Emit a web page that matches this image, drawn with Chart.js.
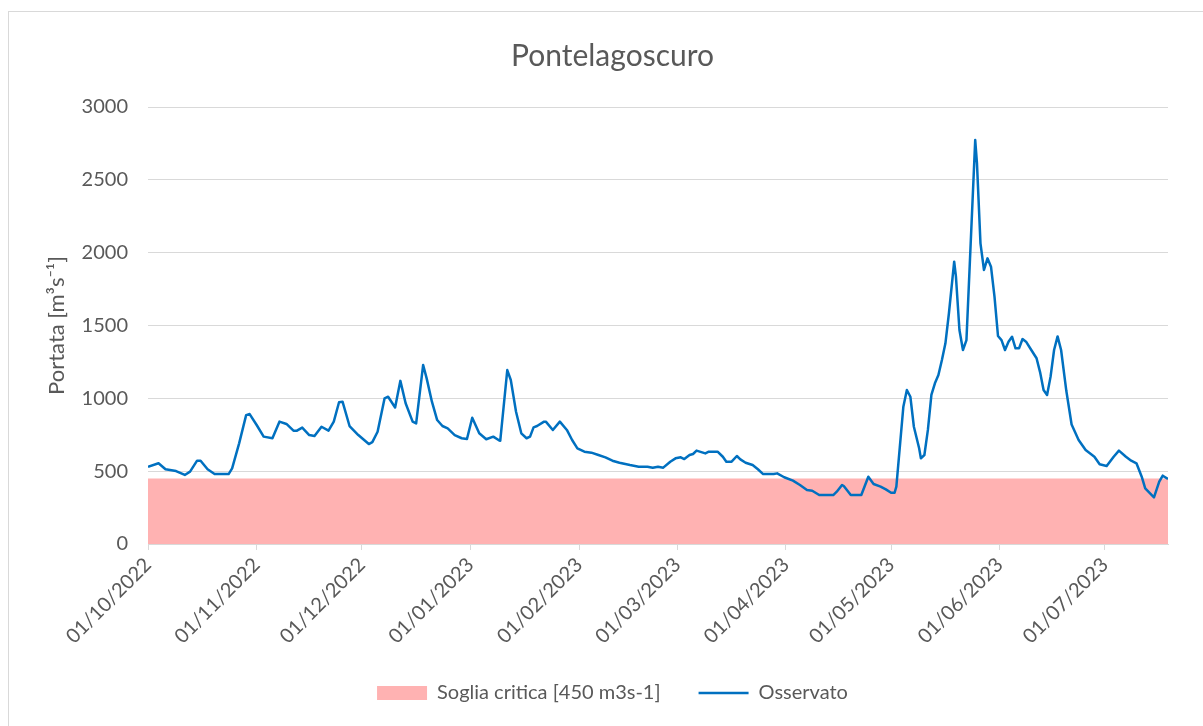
<!DOCTYPE html>
<html lang="it">
<head>
  <meta charset="UTF-8" />
  <title>Pontelagoscuro</title>
  <script src="https://cdn.jsdelivr.net/npm/chart.js"></script>
  <style>
    html, body { margin: 0; padding: 0; background: #fff; overflow: hidden; }
    #wrap { position: relative; width: 1203px; height: 726px; }
    #frame { position: absolute; left: 8px; top: 11px; width: 1230px; height: 760px;
             border: 1px solid #d9d9d9; box-sizing: border-box; pointer-events: none; }
    #chart { position: absolute; left: 0; top: 0; }
  </style>
</head>
<body>
  <div id="wrap">
    <div id="frame"></div>
    <canvas id="chart" width="1203" height="726"></canvas>
  </div>
  <script>
    // giorni dal 01/10/2022 dei primi del mese
    const monthDays = [0, 31, 61, 92, 123, 151, 182, 212, 243, 273];
    const monthLabels = ["01/10/2022", "01/11/2022", "01/12/2022", "01/01/2023", "01/02/2023",
                         "01/03/2023", "01/04/2023", "01/05/2023", "01/06/2023", "01/07/2023"];
    const lastDay = 291;
    const soglia = 450;

    // portata osservata [m3/s], giorno dal 01/10/2022
    const obsDays = [
      0, 3, 5, 8, 10.5, 12, 14, 15, 17, 19,
      23, 24, 26, 28, 29, 31, 33, 35.5, 37.5, 39.5,
      41.5, 42.5, 44, 46, 47.5, 49.5, 51.5, 53, 54.5, 55.5,
      57.5, 60, 63, 64, 65.5, 67.5, 68.5, 70.5, 72, 73.5,
      75.5, 76.5, 78.5, 79.5, 81, 82.5, 84, 85.5, 87.5, 89.5,
      91, 92.5, 94.5, 96.5, 98.5, 100, 100.5, 102.5, 103.5, 105,
      106.5, 108, 109, 110, 111, 113, 113.5, 115.5, 117.5, 119.5,
      121, 122.5, 124.5, 126.5, 128.5, 130.5, 132.5, 134.5, 137.5, 140,
      142.5, 144, 145.5, 147, 149, 150.5, 152, 153, 154.5, 155.5,
      156.5, 159, 160, 162.5, 164, 165, 166.5, 168, 169, 170.5,
      172.5, 174, 175.5, 178.5, 179.5, 181.5, 184, 186, 188, 189.5,
      191.5, 195.5, 196.5, 198, 198.5, 200.5, 203.5, 205.5, 207, 209,
      210.5, 212, 213, 213.5, 215.5, 216.5, 217.5, 218.5, 220, 220.5,
      221.5, 222.5, 223.5, 224.5, 225.5, 226.5, 227.5, 228.5, 230, 230.5,
      231.5, 232.5, 233.5, 234.5, 236, 236.5, 237.5, 238.5, 239.5, 240.5,
      241.5, 242.5, 243.5, 244.5, 245.5, 246.5, 247.5, 248.5, 249.5, 250.5,
      252, 253.5, 254.5, 255.5, 256.5, 257.5, 258.5, 259.5, 260.5, 262,
      263.5, 265.5, 267.5, 270, 271.5, 273.5, 275.5, 277, 279, 280.5,
      282, 283.5, 284.5, 287, 288.5, 289.5, 291
    ];
    const obsFlow = [
      530, 554, 513, 501, 474, 497, 572, 572, 513, 480,
      480, 519, 691, 885, 892, 817, 737, 726, 840, 824,
      778, 778, 799, 748, 741, 805, 778, 840, 973, 977,
      810, 748, 686, 699, 771, 1000, 1011, 937, 1120, 966,
      840, 828, 1229, 1137, 977, 851, 810, 794, 748, 726,
      721, 867, 760, 719, 737, 714, 709, 1194, 1126, 908,
      760, 726, 737, 801, 810, 840, 840, 783, 840, 783,
      714, 657, 634, 627, 611, 595, 572, 558, 542, 531,
      531, 524, 531, 524, 565, 588, 595, 583, 611, 618,
      641, 622, 634, 634, 599, 565, 565, 604, 581, 558,
      542, 513, 480, 480, 485, 458, 435, 405, 371, 366,
      336, 336, 359, 405, 398, 336, 336, 462, 412, 394,
      375, 352, 352, 394, 943, 1057, 1011, 805, 657, 588,
      611, 783, 1023, 1103, 1160, 1263, 1378, 1584, 1938, 1835,
      1469, 1332, 1400, 1950, 2773, 2613, 2064, 1881, 1961, 1904,
      1698, 1428, 1400, 1332, 1389, 1423, 1343, 1343, 1407, 1389,
      1332, 1275, 1180, 1057, 1023, 1149, 1332, 1425, 1332, 1050,
      820, 714, 645, 599, 547, 535, 599, 641, 599, 572,
      554, 462, 382, 320, 428, 469, 446
    ];

    const grey = "#595959";
    const pink = "#ffb2b2";
    const blue = "#0070c0";
    const font = { family: "Lato", size: 20 };

    const ctx = document.getElementById("chart").getContext("2d");
    new Chart(ctx, {
      type: "line",
      data: {
        datasets: [
          {
            label: "Soglia critica [450 m3s-1]",
            data: [{ x: 0, y: soglia }, { x: lastDay, y: soglia }],
            backgroundColor: pink,
            borderWidth: 0,
            pointRadius: 0,
            fill: "origin",
            order: 1
          },
          {
            label: "Osservato",
            data: obsDays.map((d, i) => ({ x: d, y: obsFlow[i] })),
            borderColor: blue,
            borderWidth: 2.5,
            borderJoinStyle: "round",
            pointRadius: 0,
            fill: false,
            tension: 0,
            order: 0
          }
        ]
      },
      options: {
        responsive: false,
        animation: false,
        layout: { padding: { left: 30, right: 8, top: 11, bottom: 13 } },
        plugins: {
          title: {
            display: true,
            text: "Pontelagoscuro",
            color: grey,
            font: { family: "Lato", size: 30, weight: "normal" },
            padding: { top: 27, bottom: 33 }
          },
          legend: {
            position: "bottom",
            labels: {
              usePointStyle: true,
              pointStyleWidth: 50,
              boxHeight: 14,
              padding: 38,
              color: grey,
              font: font,
              generateLabels: chart => chart.data.datasets.map((ds, i) => ({
                text: ds.label,
                datasetIndex: i,
                hidden: false,
                fontColor: grey,
                fillStyle: i === 0 ? pink : blue,
                strokeStyle: i === 0 ? pink : blue,
                lineWidth: i === 0 ? 0 : 2.5,
                pointStyle: i === 0 ? "rect" : "line"
              }))
            }
          },
          tooltip: { enabled: false }
        },
        scales: {
          x: {
            type: "linear",
            min: 0,
            max: lastDay,
            afterBuildTicks: axis => { axis.ticks = monthDays.map(v => ({ value: v })); },
            afterFit: axis => { axis.height = 101; },
            ticks: {
              autoSkip: false,
              minRotation: 45,
              maxRotation: 45,
              color: grey,
              font: font,
              callback: v => monthLabels[monthDays.indexOf(v)]
            },
            grid: { drawOnChartArea: false, drawTicks: true, tickLength: 6, color: "#d9d9d9" },
            border: { color: "#d9d9d9" }
          },
          y: {
            min: 0,
            max: 3000,
            afterFit: axis => { axis.width = 118; },
            ticks: { stepSize: 500, padding: 20, color: grey, font: font, callback: v => String(v) },
            grid: { color: "#d9d9d9", drawTicks: false },
            border: { display: false },
            title: {
              display: true,
              text: "Portata [m³s⁻¹]",
              color: grey,
              font: { family: "Lato", size: 22 },
              padding: { top: 14, bottom: 0 }
            }
          },
          yRight: {
            position: "right",
            afterFit: axis => { axis.width = 27; },
            ticks: { display: false },
            grid: { display: false },
            border: { display: false }
          }
        }
      }
    });
  </script>
</body>
</html>
